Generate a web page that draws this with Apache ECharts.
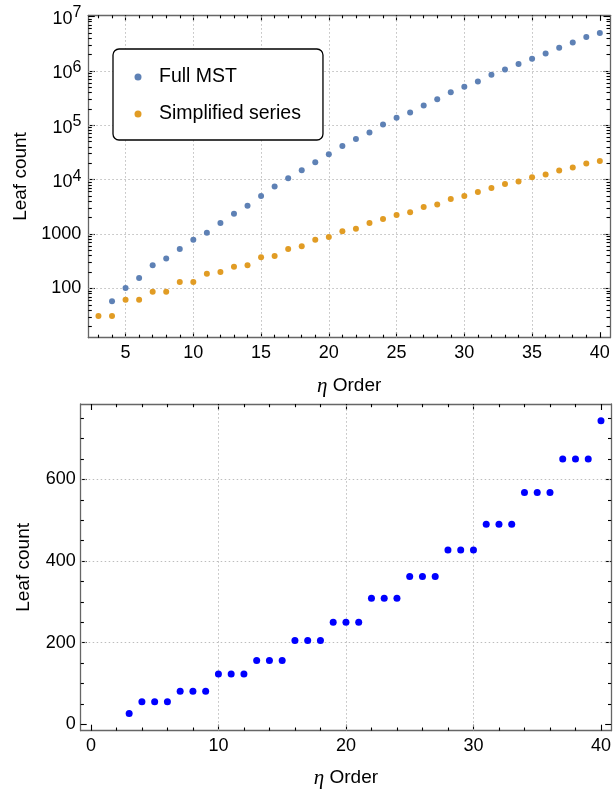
<!DOCTYPE html>
<html>
<head>
<meta charset="utf-8">
<script src="https://cdn.jsdelivr.net/npm/echarts@6/dist/echarts.min.js"></script>
<style>
  html, body { margin: 0; padding: 0; background: #fff; }
  #chart { width: 614px; height: 792px; }
</style>
</head>
<body>
<div id="chart"></div>
<script>
// η order for each point
const orders = [3, 4, 5, 6, 7, 8, 9, 10, 11, 12, 13, 14, 15, 16, 17, 18, 19, 20, 21,
  22, 23, 24, 25, 26, 27, 28, 29, 30, 31, 32, 33, 34, 35, 36, 37, 38, 39, 40];
// full MST starts at order 4
const mstOrders = orders.slice(1);

const fullMst = [58, 102, 156, 265, 356, 530, 787, 1059, 1592, 2366, 3320, 5000, 7460,
  10580, 14800, 20900, 29300, 41500, 55600, 73600, 102800, 137700, 172000, 231000,
  301000, 404000, 512000, 640000, 846000, 1060000, 1340000, 1670000, 2090000,
  2660000, 3320000, 4210000, 4980000];
const simplified = [31, 31, 62, 62, 87, 87, 131, 131, 186, 200, 251, 265, 372, 394,
  530, 593, 787, 881, 1120, 1253, 1592, 1887, 2240, 2507, 3130, 3500, 4400, 4980,
  5900, 7000, 8300, 9250, 11100, 12400, 14700, 16700, 19700, 22100];
const leafCount = [26, 55, 55, 55, 81, 81, 81, 123, 123, 123, 156, 156, 156, 205, 205,
  205, 250, 250, 250, 309, 309, 309, 362, 362, 362, 427, 427, 427, 490, 490, 490,
  568, 568, 568, 650, 650, 650, 744];

const topXTicks = [5, 10, 15, 20, 25, 30, 35, 40];
const topYTicks = [100, 1000, 1e4, 1e5, 1e6, 1e7];
const botXTicks = [0, 10, 20, 30, 40];
const botYTicks = [0, 200, 400, 600];

// gridlines only inside the frame
const topXGrid = [5, 10, 15, 20, 25, 30, 35];
const topYGrid = [100, 1000, 1e4, 1e5, 1e6];
const botXGrid = [10, 20, 30];
const botYGrid = [200, 400, 600];

const FONT = "'Liberation Sans', Arial, sans-serif";
const FRAME = { show: true, onZero: false, lineStyle: { color: '#666', width: 1.3 } };
const TICK = { color: '#000', width: 1.1 };

function between(from, to, step, skip) {
  const out = [];
  for (let v = from; v <= to + 1e-9; v += step) if (!skip.includes(v)) out.push(v);
  return out;
}
function logMinors(lo, hi) {
  const out = [];
  for (let k = 1; k <= 7; k++) for (let m = 2; m <= 9; m++) {
    const v = m * Math.pow(10, k);
    if (v >= lo && v <= hi) out.push(v);
  }
  return out;
}

// four axes per side pair: labelled + minor, and the mirrored frame side
function frameAxes(dim, grid, base, majors, minors, majLen, minLen, label, name) {
  const [sideA, sideB] = dim === 'x' ? ['bottom', 'top'] : ['left', 'right'];
  const common = Object.assign({ gridIndex: grid, splitLine: { show: false } }, base);
  const tick = (vals, len) => ({ show: true, inside: true, length: len, customValues: vals, lineStyle: TICK });
  return [
    Object.assign({}, common, {
      position: sideA, axisLine: FRAME, axisTick: tick(majors, majLen),
      axisLabel: Object.assign({ customValues: majors, color: '#000', fontFamily: FONT, fontSize: 18 }, label),
      name: name.text, nameLocation: 'middle', nameGap: name.gap,
      nameRotate: dim === 'y' ? 90 : 0,
      nameTextStyle: {
        color: '#000', fontFamily: FONT, fontSize: 19,
        rich: { i: { fontFamily: "'Liberation Serif', serif", fontStyle: 'italic', fontSize: 21 } }
      }
    }),
    Object.assign({}, common, {
      position: sideA, axisLine: { show: false, onZero: false },
      axisTick: tick(minors, minLen), axisLabel: { show: false }
    }),
    Object.assign({}, common, {
      position: sideB, axisLine: FRAME, axisTick: tick(majors, majLen), axisLabel: { show: false }
    }),
    Object.assign({}, common, {
      position: sideB, axisLine: { show: false, onZero: false },
      axisTick: tick(minors, minLen), axisLabel: { show: false }
    })
  ];
}

const topX = { type: 'value', min: 2.25, max: 40.75 };
const topY = { type: 'log', logBase: 10, min: 12.4, max: 1.05e7 };
const botX = { type: 'value', min: -0.8, max: 40.8 };
const botY = { type: 'value', min: -16, max: 785 };

const xAxis = [].concat(
  frameAxes('x', 0, topX, topXTicks, between(3, 40, 1, topXTicks), 5.5, 3,
    { margin: 6 }, { text: '{i|η} Order', gap: 38 }),
  frameAxes('x', 1, botX, botXTicks, between(0, 40, 2, botXTicks), 6, 3.2,
    { margin: 6 }, { text: '{i|η} Order', gap: 37 })
);
const yAxis = [].concat(
  frameAxes('y', 0, topY, topYTicks, logMinors(12.4, 1.05e7), 6.5, 3.5, {
    margin: 7,
    formatter: v => {
      const p = Math.round(Math.log10(v));
      return p < 4 ? String(Math.round(v)) : '{b|10}{e|' + p + '}';
    },
    rich: {
      b: { fontFamily: FONT, fontSize: 18, color: '#000', verticalAlign: 'bottom' },
      e: { fontFamily: FONT, fontSize: 16, color: '#000', verticalAlign: 'bottom', padding: [0, 0, 7, 0] }
    }
  }, { text: 'Leaf count', gap: 55 }),
  frameAxes('y', 1, botY, botYTicks, between(0, 750, 50, botYTicks), 6, 3.2,
    { margin: 5 }, { text: 'Leaf count', gap: 47 })
);

const dotted = { color: '#bdbdbd', width: 1, type: [1.5, 2.5] };
function gridSeries(xi, yi, xs, ys) {
  return {
    type: 'scatter', xAxisIndex: xi, yAxisIndex: yi, data: [], silent: true,
    markLine: {
      silent: true, symbol: 'none', z: 1, label: { show: false }, lineStyle: dotted,
      data: xs.map(v => ({ xAxis: v })).concat(ys.map(v => ({ yAxis: v })))
    }
  };
}

const chart = echarts.init(document.getElementById('chart'), null, { renderer: 'canvas' });
chart.setOption({
  animation: false,
  backgroundColor: '#fff',
  textStyle: { fontFamily: FONT },
  grid: [
    { left: 88.3, right: 4, top: 15.3, height: 322.4 },
    { left: 80.7, right: 2, top: 404, height: 326.7 }
  ],
  legend: {
    data: ['Full MST', 'Simplified series'],
    orient: 'vertical', left: 113, top: 49,
    backgroundColor: '#fff', borderColor: '#000', borderWidth: 1.3, borderRadius: 6,
    padding: [18, 22, 16, 21.5], itemGap: 17,
    itemWidth: 32, itemHeight: 7, icon: 'circle',
    textStyle: { color: '#000', fontFamily: FONT, fontSize: 19.5 }
  },
  xAxis: xAxis,
  yAxis: yAxis,
  series: [
    gridSeries(0, 0, topXGrid, topYGrid),
    gridSeries(4, 4, botXGrid, botYGrid),
    {
      name: 'Full MST', type: 'scatter', xAxisIndex: 0, yAxisIndex: 0, z: 3,
      symbolSize: 6, itemStyle: { color: '#5E81B5', opacity: 1 },
      data: mstOrders.map((x, i) => [x, fullMst[i]])
    },
    {
      name: 'Simplified series', type: 'scatter', xAxisIndex: 0, yAxisIndex: 0, z: 3,
      symbolSize: 6, itemStyle: { color: '#E19C24', opacity: 1 },
      data: orders.map((x, i) => [x, simplified[i]])
    },
    {
      name: 'Leaf count', type: 'scatter', xAxisIndex: 4, yAxisIndex: 4, z: 3,
      symbolSize: 7, itemStyle: { color: '#0000FF', opacity: 1 },
      data: orders.map((x, i) => [x, leafCount[i]])
    }
  ]
});
</script>
</body>
</html>
